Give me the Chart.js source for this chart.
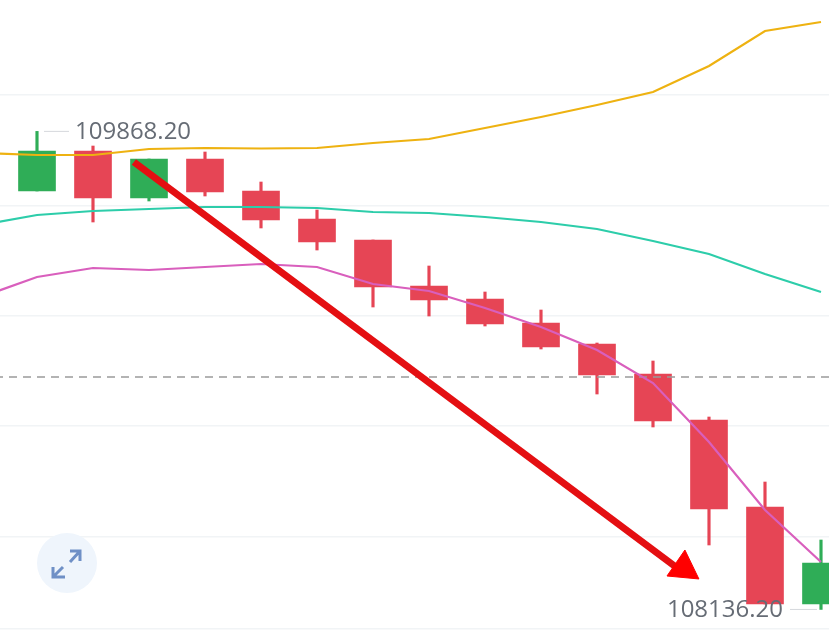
<!DOCTYPE html>
<html>
<head>
<meta charset="utf-8">
<title>K-line</title>
<script src="https://cdn.jsdelivr.net/npm/chart.js@4/dist/chart.umd.min.js"></script>
<style>
  html, body { margin: 0; padding: 0; background: #fff; overflow: hidden; }
  #wrap { position: relative; width: 829px; height: 636px; }
  #wrap canvas { position: absolute; left: 0; top: 0; }
  #expand { position: absolute; left: 0; top: 0; }
</style>
</head>
<body>
<div id="wrap">
  <canvas id="klineChart" width="829" height="636"></canvas>
  <svg id="expand" width="829" height="636" fill="none">
    <circle cx="67" cy="563" r="30" fill="#eff5fc"/>
    <path d="M70 562L80 551M70 551H80V561M63 567L53 577M53 567V577H65" stroke="#6f90c6" stroke-width="3"/>
  </svg>
</div>
<script>
// candle data, index 0 is the first whole candle on the left
const candleIdx = [0, 1, 2, 3, 4, 5, 6, 7, 8, 9, 10, 11, 12, 13, 14];
const opens  = [109652.2, 109797.1, 109626.8, 109768.1, 109652.2, 109550.8, 109474.7, 109308.0, 109260.9, 109174.0, 109097.9, 108989.2, 108822.6, 108507.4, 108155.9];
const closes = [109797.1, 109626.8, 109768.1, 109648.6, 109547.1, 109467.4, 109304.4, 109257.3, 109170.3, 109087.0, 108985.6, 108819.0, 108500.1, 108155.9, 108304.4];
const highs  = [109868.2, 109815.2, 109768.1, 109793.5, 109684.8, 109583.4, 109474.7, 109380.5, 109286.3, 109221.1, 109101.5, 109036.3, 108833.4, 108597.9, 108387.8];
const lows   = [109652.2, 109539.9, 109616.0, 109634.1, 109518.2, 109438.4, 109231.9, 109199.3, 109163.1, 109079.8, 108916.7, 108797.2, 108369.7, 108155.9, 108136.2];

// bands, these start one step left of the first candle
const lineIdx = [-1, 0, 1, 2, 3, 4, 5, 6, 7, 8, 9, 10, 11, 12, 13, 14];
const upperBand = [109789.9, 109782.6, 109782.6, 109804.4, 109808.0, 109806.2, 109808.0, 109826.1, 109840.6, 109880.5, 109920.3, 109963.8, 110010.9, 110105.0, 110231.9, 110264.5];
const midBand   = [109529.0, 109565.3, 109579.7, 109587.0, 109594.2, 109594.2, 109590.6, 109576.1, 109572.5, 109558.0, 109539.9, 109514.5, 109471.0, 109423.8, 109351.5, 109286.3];
const lowerBand = [109268.2, 109340.6, 109373.2, 109366.0, 109376.8, 109387.7, 109376.8, 109315.3, 109289.9, 109228.3, 109159.5, 109076.2, 108956.6, 108742.8, 108496.5, 108308.0];

const gridValues = [110000, 109600, 109200, 108800, 108400, 108065];
const lastPrice = 108978.3;
const highLabel = "109868.20";
const lowLabel = "108136.20";

// hand drawn arrow on the screenshot
const arrowX = [1.73, 11.48];
const arrowY = [109757.3, 108279.0];
const headX = [11.82, 11.57, 11.25, 11.82];
const headY = [108246.6, 108351.6, 108257.4, 108246.6];

const RED = "#e64555";
const GREEN = "#2fad57";

const zip = (xs, ys) => xs.map((x, i) => ({ x: x, y: ys[i] }));
const candleColors = opens.map((o, i) => (closes[i] >= o ? GREEN : RED));

function bandLine(values, color, order) {
  return {
    type: "line",
    data: zip(lineIdx, values),
    borderColor: color,
    borderWidth: 2.2,
    pointRadius: 0,
    tension: 0,
    order: order
  };
}

// high / low captions with their little leader lines
const priceLabels = {
  id: "priceLabels",
  afterDatasetsDraw(chart) {
    const { ctx, scales: { x, y } } = chart;
    const hx = x.getPixelForValue(0), hy = y.getPixelForValue(highs[0]);
    const lx = x.getPixelForValue(14), ly = y.getPixelForValue(lows[14]);
    ctx.save();
    ctx.strokeStyle = "#d5d8dc";
    ctx.lineWidth = 1;
    ctx.beginPath();
    ctx.moveTo(hx + 7, hy);
    ctx.lineTo(hx + 32, hy);
    ctx.moveTo(lx - 4, ly);
    ctx.lineTo(lx - 31, ly);
    ctx.stroke();
    ctx.fillStyle = "#666c75";
    ctx.font = '24px "Open Sans", sans-serif';
    ctx.textBaseline = "middle";
    ctx.textAlign = "left";
    ctx.fillText(highLabel, hx + 38, hy + 1);
    ctx.textAlign = "right";
    ctx.fillText(lowLabel, lx - 38, ly + 1);
    ctx.restore();
  }
};

new Chart(document.getElementById("klineChart").getContext("2d"), {
  type: "bar",
  data: {
    datasets: [
      {
        data: zip(candleIdx, highs.map((h, i) => [h, lows[i]])),
        backgroundColor: candleColors,
        barThickness: 2.5,
        grouped: false,
        order: 6
      },
      {
        data: zip(candleIdx, opens.map((o, i) => [o, closes[i]])),
        backgroundColor: candleColors,
        barThickness: 37,
        grouped: false,
        order: 5
      },
      bandLine(upperBand, "#eeb211", 3),
      bandLine(midBand, "#2dcdaa", 3),
      bandLine(lowerBand, "#d95fbd", 3),
      {
        type: "line",
        data: zip([-1, 15], [lastPrice, lastPrice]),
        borderColor: "#9a9a9a",
        borderWidth: 1.5,
        borderDash: [8, 6],
        pointRadius: 0,
        order: 4
      },
      {
        type: "line",
        data: zip(arrowX, arrowY),
        borderColor: "#e40f12",
        borderWidth: 7,
        pointRadius: 0,
        order: 1
      },
      {
        type: "line",
        data: zip(headX, headY),
        borderColor: "#ff0000",
        backgroundColor: "#ff0000",
        borderWidth: 1,
        pointRadius: 0,
        fill: "shape",
        order: 0
      }
    ]
  },
  options: {
    responsive: false,
    animation: false,
    layout: { padding: 0 },
    plugins: { legend: { display: false }, tooltip: { enabled: false } },
    scales: {
      x: {
        type: "linear",
        min: -0.6607,
        max: 14.1429,
        display: false,
        offset: false
      },
      y: {
        min: 108040,
        max: 110344.2,
        afterBuildTicks(axis) {
          axis.ticks = gridValues.map(v => ({ value: v }));
        },
        ticks: { display: false },
        border: { display: false },
        grid: { color: "#f1f4f6", lineWidth: 1.5, drawTicks: false }
      }
    }
  },
  plugins: [priceLabels]
});
</script>
</body>
</html>
